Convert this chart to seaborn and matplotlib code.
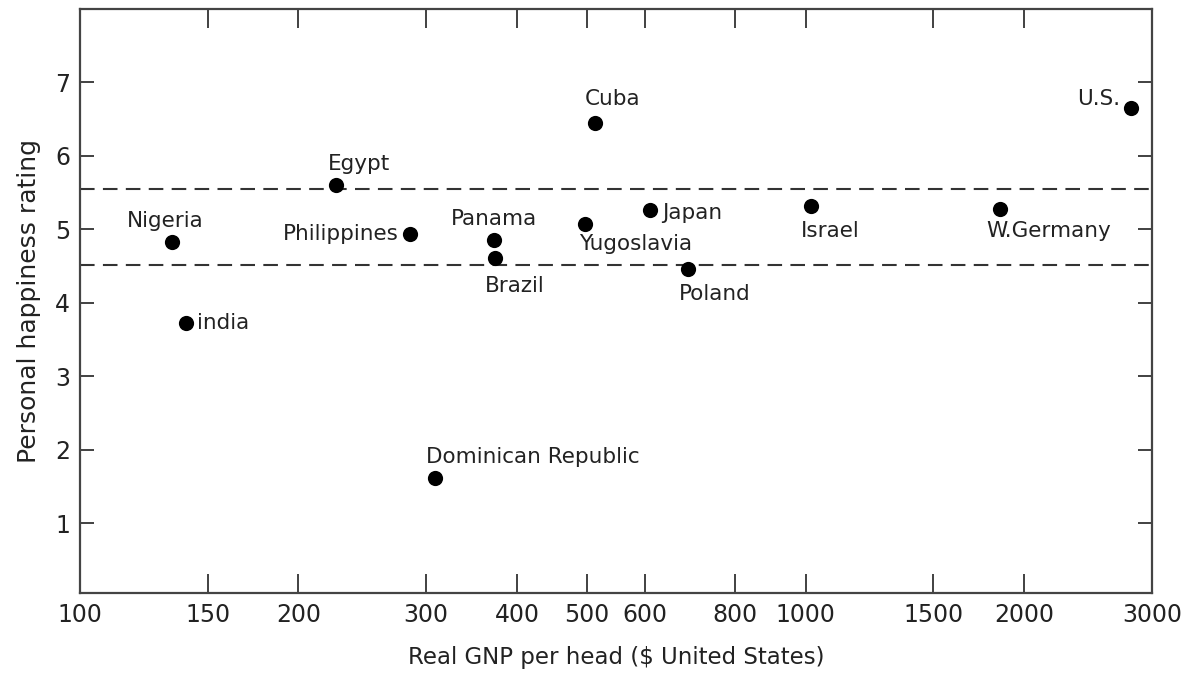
import matplotlib
matplotlib.use("Agg")
import matplotlib.pyplot as plt
import matplotlib.ticker as mticker
import seaborn as sns
import pandas as pd

# ---- data ----
countries = ["Nigeria", "India", "Egypt", "Philippines", "Panama", "Brazil",
             "Yugoslavia", "Cuba", "Japan", "Poland", "Israel", "W.Germany",
             "U.S.", "Dominican Republic"]
gnp = [134, 140, 225, 285, 372, 373, 496, 512, 610, 688, 1017, 1853, 2808, 308]
happiness = [4.83, 3.72, 5.60, 4.94, 4.86, 4.61, 5.07, 6.45, 5.26, 4.46,
             5.32, 5.28, 6.65, 1.61]
band_levels = [4.52, 5.55]
x_ticks = [100, 150, 200, 300, 400, 500, 600, 800, 1000, 1500, 2000, 3000]
y_ticks = [1, 2, 3, 4, 5, 6, 7]

# label placement (pixel offsets, alignment) -- styling only
label_style = {
    "Nigeria": ((-7, 21), "center"),
    "India": ((11, 0), "left"),
    "Egypt": ((-8, 21), "left"),
    "Philippines": ((-11, 0), "right"),
    "Panama": ((0, 21), "center"),
    "Brazil": ((-10, -28), "left"),
    "Yugoslavia": ((-6, -20), "left"),
    "Cuba": ((-10, 24), "left"),
    "Japan": ((12, -3), "left"),
    "Poland": ((-9, -25), "left"),
    "Israel": ((-10, -25), "left"),
    "W.Germany": ((-14, -22), "left"),
    "U.S.": ((-11, 9), "right"),
    "Dominican Republic": ((-9, 21), "left"),
}
display_names = {"India": "india"}

df = pd.DataFrame({"country": countries, "gnp": gnp, "happiness": happiness})

sns.set_style("white")
plt.rcParams["font.family"] = ["DejaVu Sans"]
ink = "#222222"

fig = plt.figure(figsize=(11.9, 6.76), dpi=100)
ax = fig.add_axes([0.0672, 0.1228, 0.9008, 0.8639])

sns.scatterplot(data=df, x="gnp", y="happiness", ax=ax, color="black",
                s=120, edgecolor="black", linewidth=0, zorder=3)

for lvl in band_levels:
    ax.axhline(lvl, color="#333333", lw=1.5, linestyle=(0, (7, 4)), zorder=2)

for _, row in df.iterrows():
    (dx, dy), ha = label_style[row["country"]]
    ax.annotate(display_names.get(row["country"], row["country"]),
                (row["gnp"], row["happiness"]), xytext=(dx, dy),
                textcoords="offset pixels", ha=ha, va="center",
                fontsize=15.5, color=ink)

ax.set_xscale("log")
ax.set_xlim(100, 3000)
ax.set_ylim(0.05, 8.0)
ax.xaxis.set_minor_locator(mticker.NullLocator())
ax.set_xticks(x_ticks)
ax.set_xticklabels([str(t) for t in x_ticks])
ax.set_yticks(y_ticks)
ax.set_yticklabels([str(t) for t in y_ticks])

ax.tick_params(axis="x", which="major", direction="in", length=14, width=1.3,
               color="#333333", top=True, bottom=True, labelsize=17,
               labelcolor=ink, pad=7)
ax.tick_params(axis="y", which="major", direction="in", length=10, width=1.3,
               color="#333333", left=True, right=True, labelsize=17,
               labelcolor=ink, pad=7)

for sp in ax.spines.values():
    sp.set_visible(True)
    sp.set_color("#444444")
    sp.set_linewidth(1.6)

ax.set_xlabel("Real GNP per head ($ United States)", fontsize=16.5, color=ink,
              labelpad=14)
ax.set_ylabel("Personal happiness rating", fontsize=18, color=ink, labelpad=10)

fig.savefig("out.png", dpi=100, facecolor="white")
